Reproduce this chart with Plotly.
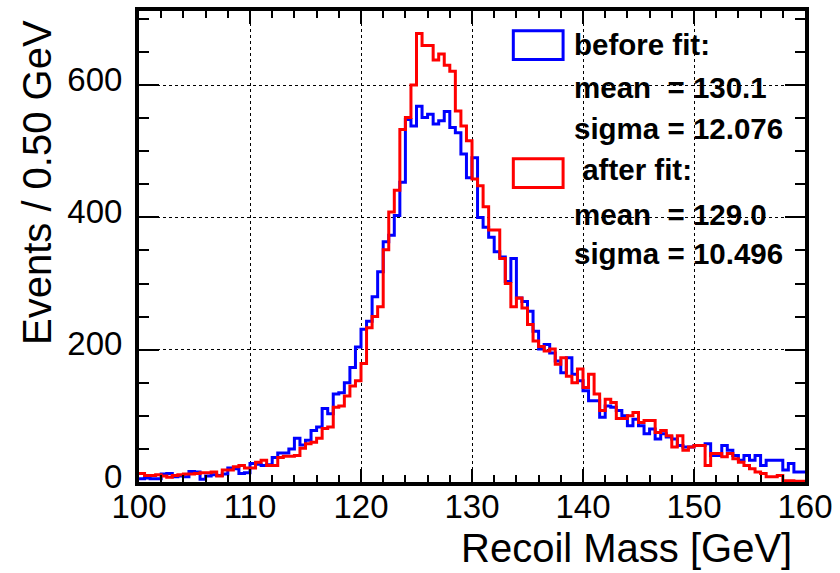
import plotly.graph_objects as go

# Histogram binning: 120 bins of 0.5 GeV from 100 to 160
bin_low = 100.0
bin_width = 0.5

before_fit = [
    5, 6, 5, 5, 12, 13, 8, 9, 8, 16, 15, 4, 9, 11, 10, 12, 21, 20, 13, 14, 28, 27, 25, 26, 37, 44, 44,
    50, 66, 56, 63, 78, 83, 111, 103, 133, 135, 150, 173, 204, 231, 243, 280, 318, 363, 373,
    403, 453, 548, 538, 568, 551, 556, 541, 546, 560, 536, 528, 496, 460, 490, 400,
    385, 370, 348, 340,
    303, 338, 278, 273, 258, 228, 201, 208, 195, 183, 165, 188, 163, 153, 138,
    123, 123, 98, 115, 113, 108, 100, 85, 95, 85, 73, 80, 65, 73, 68, 65, 55, 53, 53, 55,
    55, 58, 40, 40, 55, 48, 40, 33, 40, 33, 40, 25, 33, 33, 33, 18, 28, 15, 15,
]

after_fit = [
    13, 10, 10, 11, 9, 7, 10, 11, 12, 12, 13, 14, 14, 15, 9, 18, 18, 23, 25, 21, 21, 30, 33, 25, 25, 37, 39,
    39, 40, 51, 58, 60, 66, 81, 83, 113, 115, 130, 145, 153, 179, 233, 250, 265, 351, 408,
    441, 533, 551, 600, 678, 660, 660, 638, 647, 630, 621, 561, 538, 516, 458, 448, 416, 381, 381, 338,
    300, 265, 278, 263, 238, 213, 205, 198, 201, 178, 188, 160, 150, 171, 143,
    163, 133, 108, 125, 120, 96, 96, 100, 105, 90, 93, 93, 75, 78, 70, 53, 70, 48, 53, 55,
    55, 25, 43, 43, 38, 43, 35, 30, 25, 20, 15, 13, 8, 8, 10, 2, 2, 1, 1,
]

legend_lines = ["before fit:", "mean\u00a0\u00a0= 130.1", "sigma = 12.076",
                "\u00a0after fit:", "mean\u00a0\u00a0= 129.0", "sigma = 10.496"]

x_title = "Recoil Mass [GeV]"
y_title = "Events / 0.50 GeV"


def step_xy(vals):
    n = len(vals)
    xs = [bin_low + i * bin_width for i in range(n + 1)]
    ys = list(vals) + [vals[-1]]
    return xs, ys


fig = go.Figure()
for vals, col in [(before_fit, "#0000ff"), (after_fit, "#ff0000")]:
    xs, ys = step_xy(vals)
    fig.add_trace(go.Scatter(x=xs, y=ys, mode="lines", line_shape="hv",
                             line=dict(color=col, width=3), showlegend=False,
                             hoverinfo="skip"))

W, H = 840, 573
ml, mr, mt, mb = 139, 32, 7, 91
pw, ph = W - ml - mr, H - mt - mb


def px(xp):
    return (xp - ml) / pw


def py(yp):
    return (H - mb - yp) / ph


axis_font = dict(family="Liberation Sans, Arial, sans-serif", size=33, color="black")

fig.update_layout(
    width=W, height=H,
    margin=dict(l=ml, r=mr, t=mt, b=mb),
    paper_bgcolor="white", plot_bgcolor="white",
    xaxis=dict(range=[100, 160], dtick=10, tick0=100, ticks="inside", ticklen=13,
               tickwidth=2, tickcolor="black", mirror="allticks", showline=True,
               linewidth=4, linecolor="black", showgrid=True, gridcolor="black",
               griddash="dot", gridwidth=1, zeroline=False, tickfont=axis_font,
               ticklabelstandoff=-8,
               minor=dict(dtick=2, ticks="inside", ticklen=7, tickwidth=2,
                          tickcolor="black", showgrid=False)),
    yaxis=dict(range=[0, 712], dtick=200, tick0=0, ticks="inside", ticklen=20,
               tickwidth=2, tickcolor="black", mirror="allticks", showline=True,
               linewidth=4, linecolor="black", showgrid=True, gridcolor="black",
               griddash="dot", gridwidth=1, zeroline=False, tickfont=axis_font,
               ticklabelstandoff=6, ticklabelshift=-6,
               minor=dict(dtick=50, ticks="inside", ticklen=10, tickwidth=2,
                          tickcolor="black", showgrid=False)),
)

title_font = dict(family="Liberation Sans, Arial, sans-serif", size=40, color="black")
fig.add_annotation(text=x_title, xref="paper", yref="paper", x=px(797), y=py(549),
                   xanchor="right", yanchor="middle", showarrow=False, font=title_font)
fig.add_annotation(text=y_title, xref="paper", yref="paper", x=px(36), y=py(180),
                   xanchor="center", yanchor="middle", textangle=-90, showarrow=False,
                   font=title_font)

leg_font = dict(family="Liberation Sans, Arial, sans-serif", size=29.5, color="black")
leg_y = [41, 84, 126, 167, 212, 252]
for txt, yy in zip(legend_lines, leg_y):
    fig.add_annotation(text="<b>" + txt + "</b>", xref="paper", yref="paper",
                       x=px(574), y=py(yy), xanchor="left", yanchor="middle",
                       showarrow=False, font=leg_font)

for col, y0, y1 in [("#0000ff", 27, 56), ("#ff0000", 156, 185)]:
    fig.add_shape(type="rect", xref="paper", yref="paper",
                  x0=px(515), x1=px(565), y0=py(y1), y1=py(y0),
                  line=dict(color=col, width=3), fillcolor="rgba(0,0,0,0)")

fig.write_html("out.html")
